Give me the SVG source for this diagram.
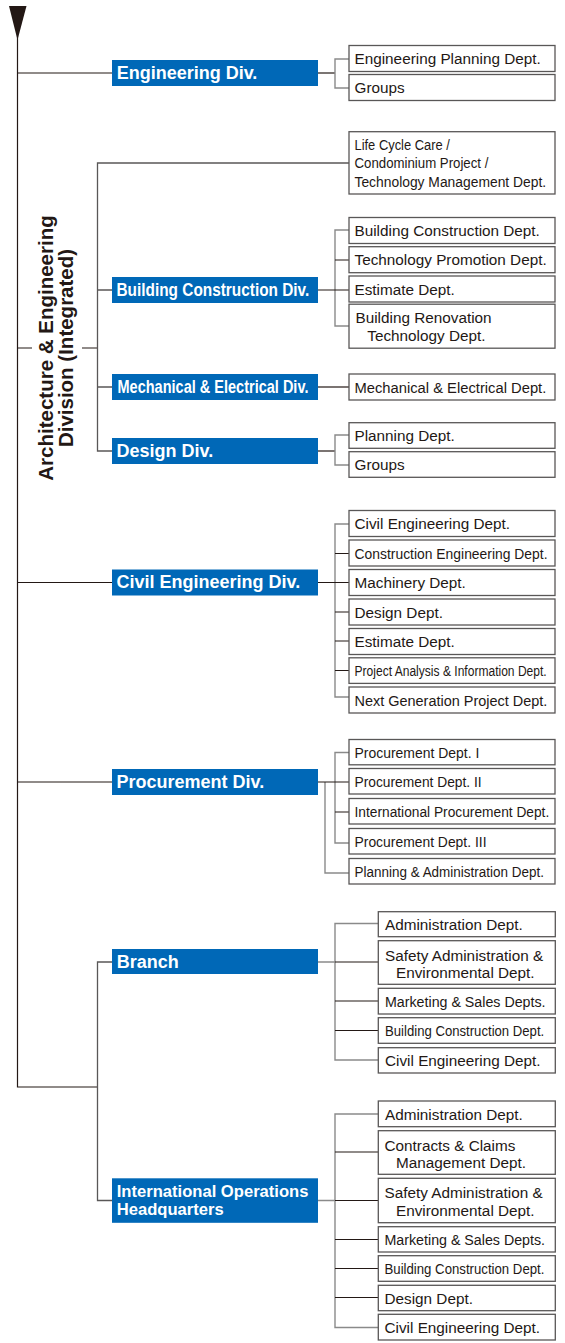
<svg xmlns="http://www.w3.org/2000/svg" width="565" height="1343" viewBox="0 0 565 1343">
<style>
.dv{fill:#0068b7}
.dvt{fill:#fff;font-family:"Liberation Sans",Arial,sans-serif;font-weight:bold;font-size:18px}
.dp{fill:#fff;stroke:#595757;stroke-width:1.3}
.dt{fill:#231815;font-family:"Liberation Sans",Arial,sans-serif;font-size:15.3px}
.k{stroke:#231815;fill:none;stroke-width:1.2}
.g{stroke:#8a8a8a;fill:none;stroke-width:1.4}
.m{stroke:#595757;fill:none;stroke-width:1.3}
.lab{fill:#231815;font-family:"Liberation Sans",Arial,sans-serif;font-weight:bold;font-size:20.5px}
</style>
<g id="connectors">
<polygon points="9,6 26.5,6 17.5,40" fill="#231815"/>
<path class="k" d="M17.5,30 V1087 H97.5 M17.5,73 H112 M17.5,348 H32 M82,348 H97.5 M17.5,582.5 H112 M17.5,782 H112"/>
<path class="m" d="M349,163 H97.5 V451 H112 M97.5,290 H112 M97.5,387 H112 M112,962 H97.5 V1200.5 H112"/>
<path class="k" d="M318,73 H335"/>
<path class="g" d="M349,59 H335 V88 H349"/>
<path class="g" d="M349,230 H335 V326 H349"/>
<path class="k" d="M318,290 H349 M335,260 H349"/>
<path class="k" d="M318,387 H349"/>
<path class="k" d="M318,451 H335"/>
<path class="g" d="M349,435 H335 V465 H349"/>
<path class="g" d="M349,524 H335 V697 H349"/>
<path class="k" d="M318,582.5 H349 M335,553.5 H349 M335,612 H349 M335,641 H349 M335,670.5 H349"/>
<path class="g" d="M349,752.5 H335 V843 H349 M325,782 V873 H349"/>
<path class="k" d="M318,782 H349 M335,812 H349"/>
<path class="g" d="M318,962 H335 M378,923.5 H335 V1060 H378"/>
<path class="k" d="M335,962 H378 M335,1001 H378 M335,1030.5 H378"/>
<path class="g" d="M318,1200.5 H335 M378,1114 H335 V1327.5 H378"/>
<path class="k" d="M335,1152 H378 M335,1200.5 H378 M335,1239.5 H378 M335,1268.5 H378 M335,1297.5 H378"/>
</g>
<g id="arch-label">
<text class="lab" text-anchor="middle" transform="translate(53,348) rotate(-90)">Architecture &amp; Engineering</text>
<text class="lab" text-anchor="middle" transform="translate(72.7,348) rotate(-90)">Division (Integrated)</text>
</g>
<g id="div-engineering"><rect class="dv" x="112" y="60" width="206" height="26"/><text class="dvt" x="116.7" y="79">Engineering Div.</text></g>
<g id="div-building"><rect class="dv" x="112" y="277" width="206" height="26"/><text class="dvt" transform="translate(116.5,296) scale(0.855,1)">Building Construction Div.</text></g>
<g id="div-mech"><rect class="dv" x="112" y="374" width="206" height="26"/><text class="dvt" transform="translate(117.5,393) scale(0.807,1)">Mechanical &amp; Electrical Div.</text></g>
<g id="div-design"><rect class="dv" x="112" y="438" width="206" height="26"/><text class="dvt" x="116.5" y="457">Design Div.</text></g>
<g id="div-civil"><rect class="dv" x="112" y="569.5" width="206" height="26"/><text class="dvt" x="116.5" y="588">Civil Engineering Div.</text></g>
<g id="div-procurement"><rect class="dv" x="112" y="769" width="206" height="26"/><text class="dvt" x="116.5" y="788">Procurement Div.</text></g>
<g id="div-branch"><rect class="dv" x="112" y="949" width="206" height="25"/><text class="dvt" x="116.7" y="968">Branch</text></g>
<g id="div-intl"><rect class="dv" x="112" y="1178.3" width="206" height="44.5"/><text class="dvt" style="font-size:16.6px" x="116.7" y="1197">International Operations</text><text class="dvt" style="font-size:16.6px" x="116.7" y="1215">Headquarters</text></g>

<g id="d-eng-plan"><rect class="dp" x="349" y="45.5" width="206" height="26"/><text class="dt" x="354.5" y="64">Engineering Planning Dept.</text></g>
<g id="d-eng-groups"><rect class="dp" x="349" y="74.5" width="206" height="26"/><text class="dt" x="354.5" y="93">Groups</text></g>
<g id="d-lifecycle"><rect class="dp" x="349" y="131.7" width="206" height="62.3"/><text class="dt" transform="translate(354.5,150) scale(0.844,1)">Life Cycle Care /</text><text class="dt" transform="translate(354.5,168.3) scale(0.866,1)">Condominium Project /</text><text class="dt" transform="translate(354.5,186.7) scale(0.906,1)">Technology Management Dept.</text></g>
<g id="d-bc-bc"><rect class="dp" x="349" y="217.5" width="206" height="26"/><text class="dt" x="354.5" y="236">Building Construction Dept.</text></g>
<g id="d-bc-tech"><rect class="dp" x="349" y="246.7" width="206" height="26"/><text class="dt" x="354.5" y="265.2">Technology Promotion Dept.</text></g>
<g id="d-bc-est"><rect class="dp" x="349" y="276" width="206" height="26"/><text class="dt" x="354.5" y="294.5">Estimate Dept.</text></g>
<g id="d-bc-reno"><rect class="dp" x="349" y="304.2" width="206" height="44"/><text class="dt" x="355.5" y="323.3">Building Renovation</text><text class="dt" x="367.3" y="340.7">Technology Dept.</text></g>
<g id="d-mech"><rect class="dp" x="349" y="374" width="206" height="26"/><text class="dt" transform="translate(354.5,392.5) scale(0.965,1)">Mechanical &amp; Electrical Dept.</text></g>
<g id="d-des-plan"><rect class="dp" x="349" y="422.7" width="206" height="25.6"/><text class="dt" x="354.5" y="441">Planning Dept.</text></g>
<g id="d-des-groups"><rect class="dp" x="349" y="451.7" width="206" height="25.6"/><text class="dt" x="354.5" y="470">Groups</text></g>
<g id="d-civ-civ"><rect class="dp" x="349" y="510.5" width="206" height="26"/><text class="dt" x="354.5" y="529">Civil Engineering Dept.</text></g>
<g id="d-civ-con"><rect class="dp" x="349" y="540" width="206" height="26"/><text class="dt" transform="translate(354.5,558.5) scale(0.908,1)">Construction Engineering Dept.</text></g>
<g id="d-civ-mach"><rect class="dp" x="349" y="569.5" width="206" height="26"/><text class="dt" x="354.5" y="588">Machinery Dept.</text></g>
<g id="d-civ-des"><rect class="dp" x="349" y="599" width="206" height="26"/><text class="dt" x="354.5" y="617.5">Design Dept.</text></g>
<g id="d-civ-est"><rect class="dp" x="349" y="628.5" width="206" height="26"/><text class="dt" x="354.5" y="647">Estimate Dept.</text></g>
<g id="d-civ-proj"><rect class="dp" x="349" y="657.8" width="206" height="25.6"/><text class="dt" transform="translate(354.5,676.3) scale(0.788,1)">Project Analysis &amp; Information Dept.</text></g>
<g id="d-civ-next"><rect class="dp" x="349" y="687" width="206" height="26"/><text class="dt" transform="translate(354.5,705.5) scale(0.946,1)">Next Generation Project Dept.</text></g>
<g id="d-pro-1"><rect class="dp" x="349" y="739.5" width="206" height="25.3"/><text class="dt" transform="translate(354.5,758) scale(0.913,1)">Procurement Dept. I</text></g>
<g id="d-pro-2"><rect class="dp" x="349" y="768.5" width="206" height="25.5"/><text class="dt" transform="translate(354.5,787) scale(0.902,1)">Procurement Dept. II</text></g>
<g id="d-pro-int"><rect class="dp" x="349" y="798.5" width="206" height="25.5"/><text class="dt" transform="translate(354.5,817) scale(0.899,1)">International Procurement Dept.</text></g>
<g id="d-pro-3"><rect class="dp" x="349" y="828.5" width="206" height="25.5"/><text class="dt" transform="translate(354.5,847) scale(0.908,1)">Procurement Dept. III</text></g>
<g id="d-pro-plan"><rect class="dp" x="349" y="858.5" width="206" height="25.5"/><text class="dt" transform="translate(354.5,877) scale(0.881,1)">Planning &amp; Administration Dept.</text></g>

<g id="d-br-adm"><rect class="dp" x="378.3" y="911.7" width="177" height="25"/><text class="dt" x="385" y="930">Administration Dept.</text></g>
<g id="d-br-safe"><rect class="dp" x="378.3" y="940.7" width="177" height="43.6"/><text class="dt" x="385" y="960.5">Safety Administration &amp;</text><text class="dt" x="396" y="978">Environmental Dept.</text></g>
<g id="d-br-mkt"><rect class="dp" x="378.3" y="988.3" width="177" height="25.7"/><text class="dt" transform="translate(385,1006.8) scale(0.931,1)">Marketing &amp; Sales Depts.</text></g>
<g id="d-br-bc"><rect class="dp" x="378.3" y="1017.7" width="177" height="25.6"/><text class="dt" transform="translate(385,1036.2) scale(0.86,1)">Building Construction Dept.</text></g>
<g id="d-br-civ"><rect class="dp" x="378.3" y="1047.7" width="177" height="25.3"/><text class="dt" x="385" y="1066">Civil Engineering Dept.</text></g>

<g id="d-in-adm"><rect class="dp" x="378.3" y="1101" width="177" height="25.7"/><text class="dt" x="385" y="1119.5">Administration Dept.</text></g>
<g id="d-in-con"><rect class="dp" x="378.3" y="1130.7" width="177" height="43.6"/><text class="dt" x="384.5" y="1150.5">Contracts &amp; Claims</text><text class="dt" x="396" y="1168">Management Dept.</text></g>
<g id="d-in-safe"><rect class="dp" x="378.3" y="1178.3" width="177" height="44.4"/><text class="dt" x="384.5" y="1198">Safety Administration &amp;</text><text class="dt" x="396" y="1215.5">Environmental Dept.</text></g>
<g id="d-in-mkt"><rect class="dp" x="378.3" y="1226.7" width="177" height="25.3"/><text class="dt" transform="translate(384.5,1245) scale(0.931,1)">Marketing &amp; Sales Depts.</text></g>
<g id="d-in-bc"><rect class="dp" x="378.3" y="1255.7" width="177" height="25.6"/><text class="dt" transform="translate(384.5,1274.2) scale(0.863,1)">Building Construction Dept.</text></g>
<g id="d-in-des"><rect class="dp" x="378.3" y="1285.3" width="177" height="25.4"/><text class="dt" x="384.5" y="1303.8">Design Dept.</text></g>
<g id="d-in-civ"><rect class="dp" x="378.3" y="1314.3" width="177" height="25.7"/><text class="dt" x="384.5" y="1332.8">Civil Engineering Dept.</text></g>
</svg>
